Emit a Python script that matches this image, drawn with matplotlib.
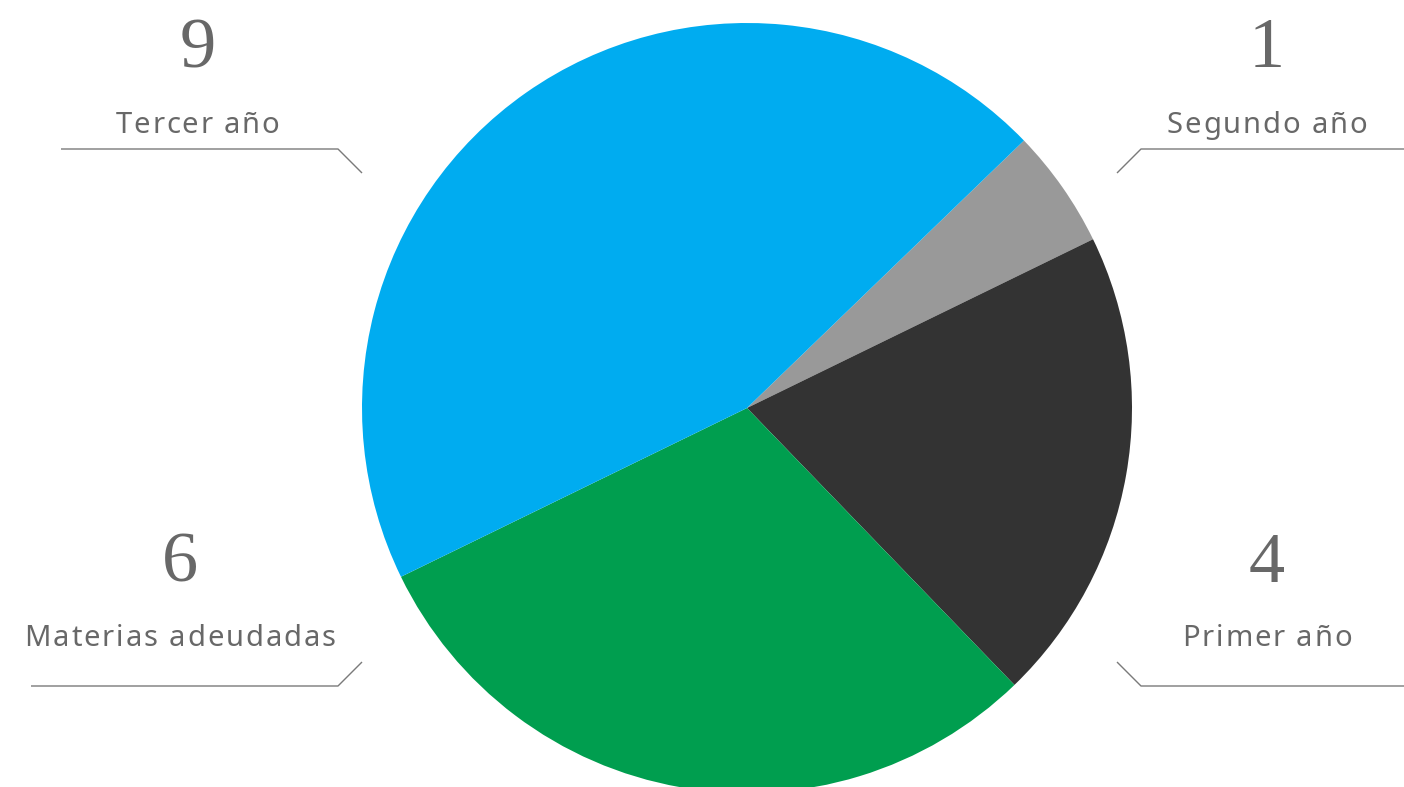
import matplotlib
matplotlib.use("Agg")
import matplotlib.pyplot as plt
from matplotlib.font_manager import FontProperties
from matplotlib.textpath import TextToPath

categories = ["Segundo año", "Primer año", "Materias adeudadas", "Tercer año"]
values = [1, 4, 6, 9]
colors = ["#999999", "#333333", "#009E4F", "#00ACF0"]

W, H = 1404, 787
DPI = 100
fig = plt.figure(figsize=(W / DPI, H / DPI), dpi=DPI)
ax = fig.add_axes([0, 0, 1, 1])

cx, cy, r = 747, H - 408, 385
ax.pie(values, colors=colors, startangle=44, counterclock=False,
       center=(cx, cy), radius=r, frame=True,
       wedgeprops=dict(linewidth=0))
ax.set_xlim(0, W)
ax.set_ylim(0, H)
ax.set_aspect("equal")
ax.axis("off")

txt_color = "#686868"
line_color = "#7a7a7a"

# label layout: (center_x, number_baseline_y, label_baseline_y, line points)
layout = {
    "Tercer año": (197.5, 67, 133, [(61, 149), (338, 149), (362, 173)]),
    "Segundo año": (1267, 67, 133, [(1117, 173), (1141, 149), (1404, 149)]),
    "Materias adeudadas": (180, 582, 646, [(31, 686), (338, 686), (362, 662)]),
    "Primer año": (1267, 582, 646, [(1117, 662), (1141, 686), (1404, 686)]),
}

label_size = 21
tracking = 1.9  # px between letters
prop = FontProperties(family="Noto Sans", size=label_size)
t2p = TextToPath()
px_per_pt = DPI / 72.0


def width_px(s):
    if not s:
        return 0.0
    w1, _, _ = t2p.get_text_width_height_descent(s + "l", prop, ismath=False)
    w2, _, _ = t2p.get_text_width_height_descent("l", prop, ismath=False)
    return (w1 - w2) * px_per_pt


def tracked_text(x_center, y, s):
    n = len(s)
    last_w = width_px(s[-1])
    total = width_px(s[:-1]) + last_w + tracking * (n - 1)
    x0 = x_center - total / 2
    for i, ch in enumerate(s):
        if ch == " ":
            continue
        xi = x0 + width_px(s[:i]) + tracking * i
        ax.text(xi, y, ch, ha="left", va="baseline", fontproperties=prop,
                color=txt_color)


for cat, val in zip(categories, values):
    nx, ny, ly, pts = layout[cat]
    ax.text(nx, H - ny, str(val), ha="center", va="baseline",
            fontsize=52, family="Liberation Serif", color=txt_color)
    tracked_text(nx, H - ly, cat)
    xs = [p[0] for p in pts]
    ys = [H - p[1] for p in pts]
    ax.plot(xs, ys, color=line_color, linewidth=1.0, solid_capstyle="butt")

fig.savefig("out.png", dpi=DPI)
